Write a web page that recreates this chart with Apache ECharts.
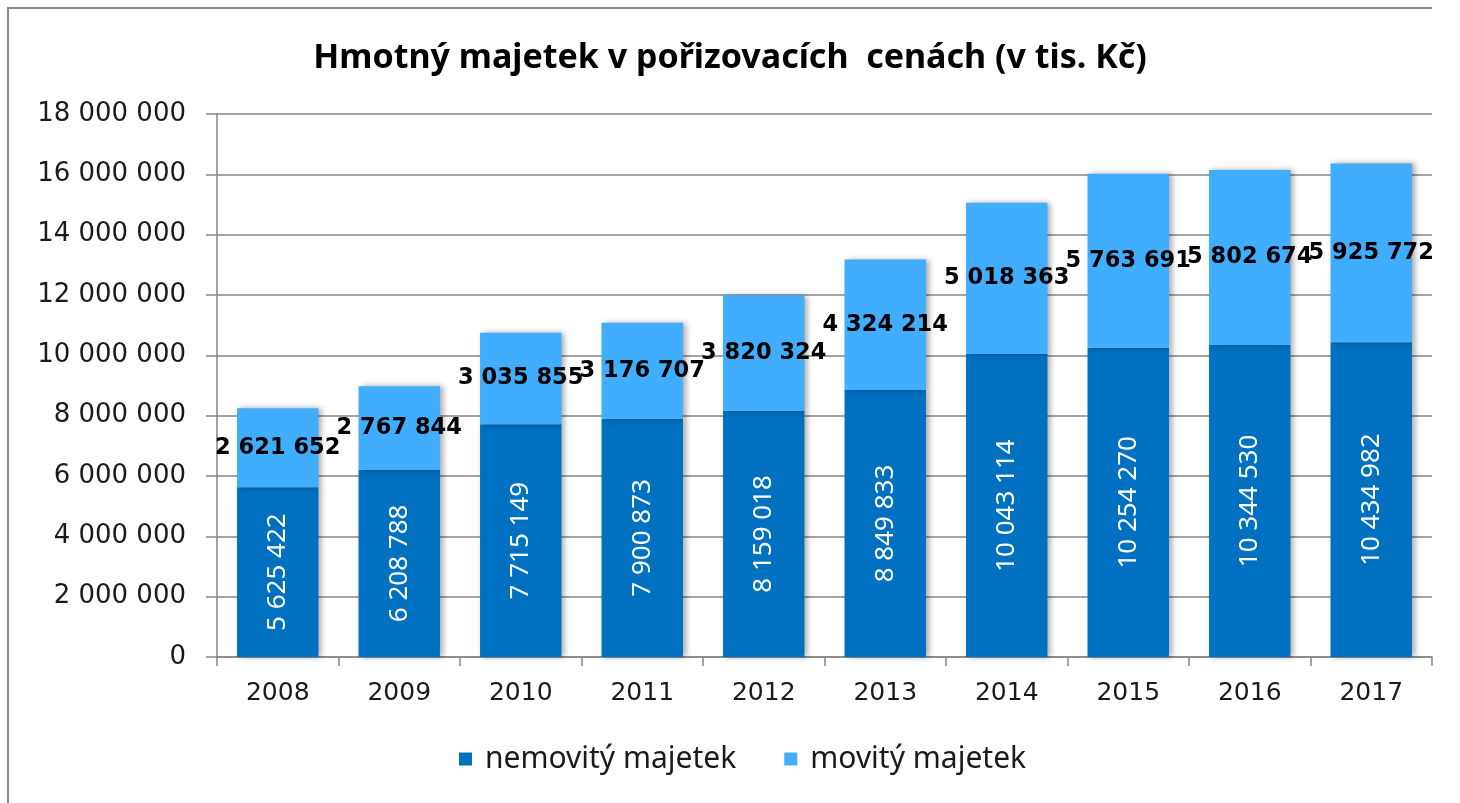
<!DOCTYPE html>
<html>
<head>
<meta charset="utf-8">
<script src="https://cdn.jsdelivr.net/npm/echarts@6/dist/echarts.min.js"></script>
<style>
  html, body { margin: 0; padding: 0; background: #fff; }
  #chart-container { width: 1460px; height: 803px; }
</style>
</head>
<body>
<div id="chart-container"></div>
<script>
var years = ['2008', '2009', '2010', '2011', '2012', '2013', '2014', '2015', '2016', '2017'];
var nemovity = [5625422, 6208788, 7715149, 7900873, 8159018, 8849833, 10043114, 10254270, 10344530, 10434982];
var movity = [2621652, 2767844, 3035855, 3176707, 3820324, 4324214, 5018363, 5763691, 5802674, 5925772];

var dom = document.getElementById('chart-container');
var myChart = echarts.init(dom);

// mezery jako oddělovač tisíců
function fmt(v) {
  return String(v).replace(/\B(?=(\d{3})+(?!\d))/g, ' ');
}

var barShadow = {
  shadowColor: 'rgba(0, 0, 0, 0.35)',
  shadowBlur: 6,
  shadowOffsetX: 3,
  shadowOffsetY: 0
};

myChart.setOption({
  backgroundColor: '#fff',
  animation: false,
  title: {
    text: 'Hmotný majetek v pořizovacích  cenách (v tis. Kč)',
    left: 'center',
    top: 36,
    textStyle: {
      fontFamily: 'Noto Sans',
      fontWeight: 'bold',
      fontSize: 34,
      color: '#000'
    }
  },
  legend: {
    bottom: 24,
    left: 454,
    itemWidth: 13,
    itemHeight: 13,
    itemGap: 48,
    icon: 'rect',
    textStyle: {
      fontFamily: 'Noto Sans',
      fontSize: 30,
      color: '#1a1a1a',
      padding: [0, 0, 0, 8]
    },
    data: ['nemovitý majetek', 'movitý majetek']
  },
  grid: {
    left: 217,
    right: 28,
    top: 114,
    bottom: 146
  },
  xAxis: {
    type: 'category',
    data: years,
    axisLine: { lineStyle: { color: '#868686', width: 1.5 } },
    axisTick: { show: true, length: 9, lineStyle: { color: '#868686', width: 1.5 } },
    axisLabel: {
      fontFamily: 'DejaVu Sans',
      fontSize: 25,
      color: '#1a1a1a',
      margin: 24
    }
  },
  yAxis: {
    type: 'value',
    min: 0,
    max: 18000000,
    interval: 2000000,
    axisLine: { show: true, lineStyle: { color: '#868686', width: 1.5 } },
    axisTick: { show: true, length: 11, lineStyle: { color: '#868686', width: 1.5 } },
    splitLine: { lineStyle: { color: '#868686', width: 1.5 } },
    axisLabel: {
      fontFamily: 'DejaVu Sans',
      fontSize: 26,
      color: '#1a1a1a',
      margin: 31,
      formatter: function (v) { return fmt(v); }
    }
  },
  graphic: [
    {
      type: 'polyline',
      shape: { points: [[1432, 8], [8, 8], [8, 803]] },
      style: { fill: 'none', stroke: '#888', lineWidth: 2 },
      silent: true
    }
  ],
  series: [
    {
      name: 'nemovitý majetek',
      type: 'bar',
      stack: 'total',
      barWidth: '67%',
      data: nemovity,
      itemStyle: Object.assign({ color: '#0070C0' }, barShadow),
      label: {
        show: true,
        position: 'inside',
        rotate: 90,
        fontFamily: 'Noto Sans',
        fontSize: 26,
        color: '#fff',
        formatter: function (p) { return fmt(p.value); }
      }
    },
    {
      name: 'movitý majetek',
      type: 'bar',
      stack: 'total',
      barWidth: '67%',
      data: movity,
      itemStyle: Object.assign({ color: '#41ADFF' }, barShadow),
      label: {
        show: true,
        position: 'inside',
        fontFamily: 'DejaVu Sans',
        fontWeight: 'bold',
        fontSize: 22.5,
        color: '#000',
        formatter: function (p) { return fmt(p.value); }
      }
    }
  ]
});

window.addEventListener('resize', myChart.resize);
</script>
</body>
</html>
